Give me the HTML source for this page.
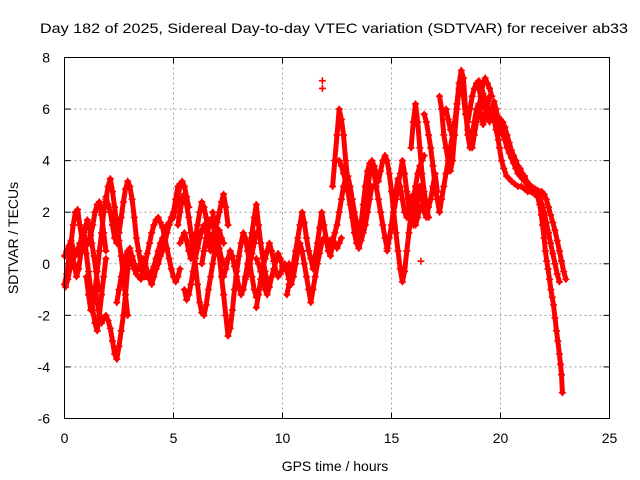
<!DOCTYPE html>
<html><head><meta charset="utf-8"><style>
html,body{margin:0;padding:0;background:#fff;}
svg{display:block;font-family:"Liberation Sans","DejaVu Sans",sans-serif;}
</style></head><body>
<svg id="chart" width="640" height="480" viewBox="0 0 640 480">
<rect width="640" height="480" fill="#fff"/>
<text x="334" y="33" text-anchor="middle" font-size="14" textLength="588" lengthAdjust="spacingAndGlyphs">Day 182 of 2025, Sidereal Day-to-day VTEC variation (SDTVAR) for receiver ab33</text>
<g id="grid"></g>
<g id="ticks"></g>
<g id="marks"></g>
<rect x="64.5" y="57.5" width="545" height="361" fill="none" stroke="#000" stroke-width="1"/>
<text x="335" y="471" text-anchor="middle" font-size="14">GPS time / hours</text>
<text x="18" y="238" text-anchor="middle" font-size="14" transform="rotate(-90 18 238)">SDTVAR / TECUs</text>
</svg>
<script>
const xTicks = [0,5,10,15,20,25];
const yTicks = [-6,-4,-2,0,2,4,6,8];
// tracks: start hour (0.1 h step) and values
const trackStarts = [0.0,0.0,0.05,1.0,1.4,1.9,2.4,3.0,3.5,5.2,5.3,5.5,6.3,6.8,7.3,8.2,8.8,8.8,10.2,10.3,11.83,12.3,12.6,14.8,15.9,16.5,17.2,17.5,18.5,19.0,19.6,19.7];
const trackValues = [
[-0.8,-0.4,0.2,0.8,1.5,2.0,2.1,1.5,1.0,0.8,0.7,0.9,1.1,1.5,2.0,2.3,2.4,1.9,1.2,0.5],
[0.3,0.5,0.7,0.9,0.6,0.3,0.5,0.8,1.0,1.2,0.4,-0.3,-1.0,-1.8,-2.3,-2.6,-2.0,-1.2,-0.5,0.2],
[-0.9,-0.6,-0.2,0.3,0.0,-0.5,-0.2,0.4,0.9,1.4,1.7,1.4,0.8,0.3,-0.3,-1.0],
[-0.5,-1.2,-1.8,-1.5,-1.0,-0.3,0.5,1.2,2.0,2.5,3.0,3.3,2.8,2.2,1.5,0.9,0.3,-0.5,-1.2,-2.0],
[-1.0,-1.5,-2.0,-2.3,-2.1,-2.0,-2.2,-2.5,-3.0,-3.5,-3.7,-3.2,-2.6,-2.0,-1.2,-0.2,0.6],
[2.6,2.3,2.0,1.5,1.0,0.8,1.2,1.8,2.4,2.9,3.2,3.0,2.5,1.8,1.0,0.5,0.0,-0.3,-0.5],
[-1.5,-1.0,-0.5,0.0,0.3,0.5,0.3,0.0,-0.2,-0.4,-0.5,-0.6,-0.5,-0.3,-0.4,-0.6,-0.8,-0.5,-0.2,0.0,0.3,0.5,0.8,1.2,1.5,1.8,2.0,2.5,3.0,3.1],
[0.5,0.3,0.0,-0.3,-0.2,0.0,0.2,0.0,-0.3,-0.5,-0.3,-0.1,0.2,0.5,0.8,1.0,1.2,1.5,1.6,1.7,1.8,2.2,2.6,3.0,3.2,3.0,2.6,2.2],
[-0.5,-0.3,0.0,0.4,0.8,1.2,1.5,1.7,1.8,1.6,1.4,1.0,0.6,0.2,-0.2,-0.5,-0.7,-0.5,-0.2],
[1.5,2.0,2.5,2.7,2.3,1.8,1.2,0.6,0.0,-0.8,-1.5,-1.9,-2.0,-1.6,-1.0,-0.5,0.0,0.5,1.0,1.3,1.0,0.8],
[0.8,1.0,1.2,0.9,0.5,0.2,0.5,1.0,1.5,2.0,2.4,2.2,1.8,1.2,0.9,1.1,1.3,1.0,0.6,0.2,0.0],
[-1.0,-1.4,-1.2,-0.8,-0.3,0.2,0.6,1.0,1.3,1.5,1.2,0.8,0.5,0.8,1.2,1.6,2.0,2.4,2.7,2.2,1.5],
[0.0,0.5,1.0,1.4,1.7,1.5,1.2,0.9,1.1],
[2.0,1.5,1.0,0.3,-0.5,-1.2,-2.0,-2.8,-2.5,-1.8,-1.0,-0.3,0.3,0.8,1.2,1.0,0.5,0.0,-0.5,-1.0,-1.3],
[-0.5,-0.2,0.2,0.5,0.3,-0.1,-0.5,-0.9,-1.2,-1.0,-0.6,-0.3,0.0,0.4,0.8,1.2],
[-1.0,-0.5,0.0,0.6,1.2,1.8,2.3,1.5,0.8,0.2,-0.3,-0.8],
[-1.7,-1.2,-0.6,-0.2,0.2,0.5,0.8,0.5,0.1,-0.3,-0.5,-0.4,-0.2,0.0,-0.3,-0.6,-0.8,-0.5],
[0.2,0.0,-0.3,-0.6,-1.0,-1.2,-0.9,-0.5,-0.2,0.1,0.4,0.2,-0.1],
[-1.2,-0.8,-0.4,0.0,0.5,1.0,1.5,2.0,1.6,1.0,0.5,0.2,-0.2,0.3,0.8,1.4,2.0,1.5,1.0,0.5,0.3,0.8,1.2,1.5,2.0,2.5,3.0,3.3,2.8,2.3,1.8,1.2,0.8,0.6,0.9,1.2,1.5,2.0,2.5,3.0],
[0.0,-0.3,-0.5,0.0,0.5,0.8,0.5,0.0,-0.5,-1.0,-1.5,-1.0,-0.5,0.0,0.4,0.8,1.0,0.9,0.8,0.9,1.0,0.8,0.6,0.8,1.0],
[7.1],
[3.0,4.0,5.0,6.0,5.6,5.0,4.0,3.2,2.5,1.8,1.2,0.8,0.9,1.5,2.3,3.0,3.6,3.9,4.0,3.8,3.5,3.2,3.6,4.0,4.2,4.0,3.5,2.8,2.0,1.2,0.5,-0.2,-0.7,-0.3,0.5,1.2,2.0,2.5,3.0,3.5,3.8,4.0,4.2],
[4.0,3.8,3.5,3.2,3.4,3.0,2.5,2.0,1.6,1.2,1.0,1.3,2.0,2.8,3.5,3.8,3.5,3.0,2.5,2.0,1.5,1.0,0.6,1.0,1.5,2.2,2.8,3.3,3.0,2.5,2.0,1.8,2.2,2.6,2.0,1.5,1.8,2.2],
[0.5,1.0,1.5,2.0,2.5,3.0,3.5,4.0,3.5,2.8,2.2,1.8,1.5,2.0,2.5,3.0,2.5,2.0,1.8,2.2,2.5,3.0,3.5,2.8],
[4.5,5.5,6.2,5.5,4.5,3.5,2.8,2.2,1.8],
[5.8,5.5,5.0,4.5,3.8,3.0,2.5,2.0,2.5,3.0,3.5,4.0,4.5,5.0,5.5,6.0],
[6.5,6.0,5.0,4.5,4.0,3.6,4.0,5.0,6.0,6.8,7.0,6.5,5.8,5.2,4.8,4.5,5.0,5.5,6.0,6.5,7.0,7.2,7.0,6.8,6.5],
[6.0,5.6,5.2,5.0,5.5,6.2,7.0,7.5,7.2,6.0,5.0,4.5,5.0,5.5,6.0,6.2,5.8,5.4,5.8,6.2,6.5],
[5.5,6.0,6.5,6.8,7.0,7.1,7.0,6.6,6.2,5.8,5.5,6.0,6.3,6.0,5.5],
[6.8,6.5,6.2,6.0,5.8,6.0,5.9],
[5.9,5.85,5.8,5.7,5.6,5.5,5.3,5.0,4.7,4.4,4.2,4.0,3.8,3.7,3.5,3.4,3.2,3.1,3.0,2.95,2.9,2.85,2.8,2.8,2.7,2.5,2.2,1.9,1.6,1.3,0.9,0.5,0.1,-0.3,-0.6],
[5.7,5.6,5.4,5.2,5.0,4.8,4.5,4.3,4.1,3.9,3.7,3.5,3.4,3.3,3.2,3.1,3.0,2.9,2.9,2.8,2.7,2.6,2.3,2.0,1.6,1.2,0.8,0.4,0.0,-0.4,-0.7]
];
// lower steep decay track, explicit times
const lowerTimes = [19.63,19.7,19.8,19.9,19.95,20.05,20.15,20.28,20.4,20.5,20.64,20.8,20.95,21.1,21.25,21.4,21.56,21.7,21.8,21.87,21.93,22.0,22.06,22.12,22.18,22.25,22.31,22.37,22.43,22.5,22.57,22.63,22.7,22.75,22.8,22.84];
const lowerValues = [5.9,5.6,5.2,4.8,4.5,4.0,3.7,3.4,3.3,3.2,3.1,3.0,3.0,2.9,2.8,2.8,2.7,2.6,2.3,1.9,1.5,1.0,0.5,0.1,-0.2,-0.6,-1.0,-1.3,-1.6,-2.1,-2.6,-3.0,-3.5,-3.9,-4.3,-5.0];
const extraTimes = [11.83,16.35];
const extraValues = [6.8,0.1];

const X0=64.5, X1=609.5, Y0=418.5, Y1=57.5;
const xs = t => X0 + (t-0)/(25-0)*(X1-X0);
const ys = v => Y0 - (v-(-6))/(8-(-6))*(Y0-Y1);
const NS='http://www.w3.org/2000/svg';
const grid=document.getElementById('grid'), ticks=document.getElementById('ticks'), marks=document.getElementById('marks');
function mk(tag, attrs, parent){const e=document.createElementNS(NS,tag);for(const k in attrs)e.setAttribute(k,attrs[k]);parent.appendChild(e);return e;}
xTicks.forEach(t=>{
  const x=xs(t);
  if(t>0&&t<25){const g=mk('line',{x1:x,x2:x,y1:Y1,y2:Y0,stroke:'#a0a0a0','stroke-dasharray':'2,3'},grid);
  
  }
  const a=mk('line',{x1:x,x2:x,y1:Y0,y2:Y0-6,stroke:'#000'},ticks);
  
  
  const b=mk('line',{x1:x,x2:x,y1:Y1,y2:Y1+6,stroke:'#000'},ticks);
  
  
  const l=mk('text',{x:x,y:443,'text-anchor':'middle','font-size':14},ticks);
  l.textContent=t;
  
  
});
yTicks.forEach(v=>{
  const y=ys(v);
  if(v>-6&&v<8){const g=mk('line',{x1:X0,x2:X1,y1:y,y2:y,stroke:'#a0a0a0','stroke-dasharray':'2,3'},grid);
  
  }
  const a=mk('line',{x1:X0,x2:X0+6,y1:y,y2:y,stroke:'#000'},ticks);
  
  
  const b=mk('line',{x1:X1,x2:X1-6,y1:y,y2:y,stroke:'#000'},ticks);
  
  
  const l=mk('text',{x:50,y:y+5,'text-anchor':'end','font-size':14},ticks);
  l.textContent=v;
  
  
});
let d='';
let ribbons='';
function plus(t,v){const x=xs(t),y=ys(v);d+=`M${(x-3.5).toFixed(1)} ${y.toFixed(1)}h7M${x.toFixed(1)} ${(y-3.5).toFixed(1)}v7`;}
trackValues.forEach((vals,i)=>{
  vals.forEach((v,j)=>{
    const x=xs(trackStarts[i]+j*0.1), y=ys(v);
    ribbons+=(j===0?'M':'L')+x.toFixed(1)+' '+y.toFixed(1);
    plus(trackStarts[i]+j*0.1,v);
  });
});
lowerTimes.forEach((t,i)=>{
  ribbons+=(i===0?'M':'L')+xs(t).toFixed(1)+' '+ys(lowerValues[i]).toFixed(1);
  plus(t,lowerValues[i]);
});
extraTimes.forEach((t,i)=>plus(t,extraValues[i]));
const r=mk('path',{d:ribbons,stroke:'#ff0000','stroke-width':5,fill:'none','stroke-linejoin':'round','stroke-linecap':'round'},marks);


const p=mk('path',{d:d,stroke:'#ff0000','stroke-width':1.6,fill:'none'},marks);


</script>
</body></html>
